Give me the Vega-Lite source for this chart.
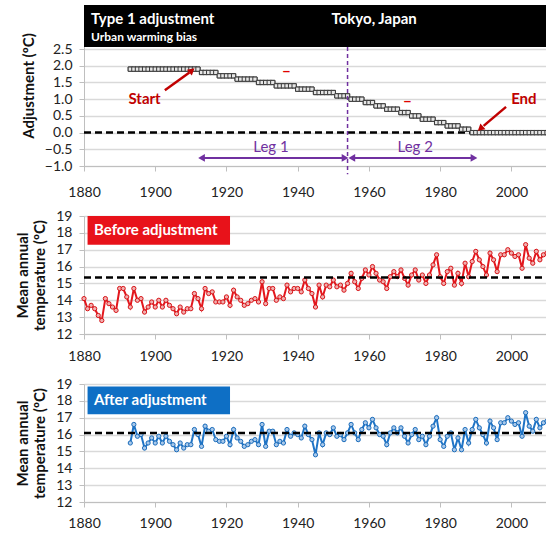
{
  "$schema": "https://vega.github.io/schema/vega-lite/v6.json",
  "padding": {"left": 15, "top": 5, "right": 0, "bottom": 0},
  "bounds": "flush",
  "spacing": 50,
  "config": {
    "view": {"stroke": null},
    "font": "Lato",
    "axis": {"labelFont": "Lato", "labelFontSize": 14, "labelColor": "#222", "titleFont": "Lato", "titleFontSize": 15, "titleFontWeight": "bold", "titleColor": "#111", "gridColor": "#d9d9d9", "gridWidth": 1.5, "domainColor": "#bfbfbf", "tickColor": "#bfbfbf", "tickSize": 5, "labelFlush": false, "labelOverlap": false}
  },
  "datasets": {
    "adj": [
      {"year":1893,"adj":1.9},{"year":1894,"adj":1.9},{"year":1895,"adj":1.9},{"year":1896,"adj":1.9},{"year":1897,"adj":1.9},{"year":1898,"adj":1.9},{"year":1899,"adj":1.9},{"year":1900,"adj":1.9},{"year":1901,"adj":1.9},{"year":1902,"adj":1.9},{"year":1903,"adj":1.9},{"year":1904,"adj":1.9},{"year":1905,"adj":1.9},{"year":1906,"adj":1.9},{"year":1907,"adj":1.9},{"year":1908,"adj":1.9},{"year":1909,"adj":1.9},{"year":1910,"adj":1.9},{"year":1911,"adj":1.9},{"year":1912,"adj":1.9},
      {"year":1913,"adj":1.8},{"year":1914,"adj":1.8},{"year":1915,"adj":1.8},{"year":1916,"adj":1.8},{"year":1917,"adj":1.8},
      {"year":1918,"adj":1.7},{"year":1919,"adj":1.7},{"year":1920,"adj":1.7},{"year":1921,"adj":1.7},{"year":1922,"adj":1.7},
      {"year":1923,"adj":1.6},{"year":1924,"adj":1.6},{"year":1925,"adj":1.6},{"year":1926,"adj":1.6},{"year":1927,"adj":1.6},{"year":1928,"adj":1.6},
      {"year":1929,"adj":1.5},{"year":1930,"adj":1.5},{"year":1931,"adj":1.5},{"year":1932,"adj":1.5},{"year":1933,"adj":1.5},
      {"year":1934,"adj":1.4},{"year":1935,"adj":1.4},{"year":1936,"adj":1.4},{"year":1937,"adj":1.4},{"year":1938,"adj":1.4},{"year":1939,"adj":1.4},
      {"year":1940,"adj":1.3},{"year":1941,"adj":1.3},{"year":1942,"adj":1.3},{"year":1943,"adj":1.3},{"year":1944,"adj":1.3},
      {"year":1945,"adj":1.2},{"year":1946,"adj":1.2},{"year":1947,"adj":1.2},{"year":1948,"adj":1.2},{"year":1949,"adj":1.2},{"year":1950,"adj":1.2},
      {"year":1951,"adj":1.1},{"year":1952,"adj":1.1},{"year":1953,"adj":1.1},{"year":1954,"adj":1.1},
      {"year":1955,"adj":1.0},{"year":1956,"adj":1.0},{"year":1957,"adj":1.0},{"year":1958,"adj":1.0},
      {"year":1959,"adj":0.9},{"year":1960,"adj":0.9},{"year":1961,"adj":0.9},
      {"year":1962,"adj":0.8},{"year":1963,"adj":0.8},{"year":1964,"adj":0.8},
      {"year":1965,"adj":0.7},{"year":1966,"adj":0.7},{"year":1967,"adj":0.7},{"year":1968,"adj":0.7},
      {"year":1969,"adj":0.6},{"year":1970,"adj":0.6},{"year":1971,"adj":0.6},
      {"year":1972,"adj":0.5},{"year":1973,"adj":0.5},{"year":1974,"adj":0.5},
      {"year":1975,"adj":0.4},{"year":1976,"adj":0.4},{"year":1977,"adj":0.4},{"year":1978,"adj":0.4},
      {"year":1979,"adj":0.3},{"year":1980,"adj":0.3},{"year":1981,"adj":0.3},
      {"year":1982,"adj":0.2},{"year":1983,"adj":0.2},{"year":1984,"adj":0.2},{"year":1985,"adj":0.2},
      {"year":1986,"adj":0.1},{"year":1987,"adj":0.1},{"year":1988,"adj":0.1},
      {"year":1989,"adj":0.0},{"year":1990,"adj":0.0},{"year":1991,"adj":0.0},{"year":1992,"adj":0.0},{"year":1993,"adj":0.0},{"year":1994,"adj":0.0},{"year":1995,"adj":0.0},{"year":1996,"adj":0.0},{"year":1997,"adj":0.0},{"year":1998,"adj":0.0},{"year":1999,"adj":0.0},{"year":2000,"adj":0.0},{"year":2001,"adj":0.0},{"year":2002,"adj":0.0},{"year":2003,"adj":0.0},{"year":2004,"adj":0.0},{"year":2005,"adj":0.0},{"year":2006,"adj":0.0},{"year":2007,"adj":0.0},{"year":2008,"adj":0.0},{"year":2009,"adj":0.0},{"year":2010,"adj":0.0}
    ],
    "temps": [
      {"year":1880,"before":14.1},{"year":1881,"before":13.5},{"year":1882,"before":13.7},{"year":1883,"before":13.5},{"year":1884,"before":13.1},{"year":1885,"before":12.8},{"year":1886,"before":14.1},{"year":1887,"before":13.8},{"year":1888,"before":13.6},{"year":1889,"before":13.4},{"year":1890,"before":14.7},{"year":1891,"before":14.7},{"year":1892,"before":14.2},
      {"year":1893,"before":13.6,"after":15.5},{"year":1894,"before":14.7,"after":16.6},{"year":1895,"before":14.0,"after":15.9},{"year":1896,"before":14.1,"after":16.0},{"year":1897,"before":13.3,"after":15.2},{"year":1898,"before":13.6,"after":15.5},{"year":1899,"before":13.9,"after":15.8},{"year":1900,"before":13.6,"after":15.5},
      {"year":1901,"before":14.0,"after":15.9},{"year":1902,"before":13.6,"after":15.5},{"year":1903,"before":14.0,"after":15.9},{"year":1904,"before":13.7,"after":15.6},{"year":1905,"before":13.5,"after":15.4},{"year":1906,"before":13.2,"after":15.1},{"year":1907,"before":13.6,"after":15.5},{"year":1908,"before":13.3,"after":15.2},{"year":1909,"before":13.5,"after":15.4},{"year":1910,"before":13.5,"after":15.4},
      {"year":1911,"before":14.4,"after":16.3},{"year":1912,"before":14.1,"after":16.0},{"year":1913,"before":13.5,"after":15.3},{"year":1914,"before":14.7,"after":16.5},{"year":1915,"before":14.4,"after":16.2},{"year":1916,"before":14.5,"after":16.3},{"year":1917,"before":13.9,"after":15.7},{"year":1918,"before":13.9,"after":15.6},{"year":1919,"before":13.9,"after":15.6},{"year":1920,"before":14.2,"after":15.9},
      {"year":1921,"before":13.7,"after":15.4},{"year":1922,"before":14.6,"after":16.3},{"year":1923,"before":14.2,"after":15.8},{"year":1924,"before":14.0,"after":15.6},{"year":1925,"before":13.7,"after":15.3},{"year":1926,"before":13.8,"after":15.4},{"year":1927,"before":14.0,"after":15.6},{"year":1928,"before":14.1,"after":15.7},{"year":1929,"before":13.9,"after":15.4},{"year":1930,"before":15.1,"after":16.6},
      {"year":1931,"before":13.8,"after":15.3},{"year":1932,"before":14.7,"after":16.2},{"year":1933,"before":14.7,"after":16.2},{"year":1934,"before":14.0,"after":15.4},{"year":1935,"before":14.2,"after":15.6},{"year":1936,"before":14.1,"after":15.5},{"year":1937,"before":14.9,"after":16.3},{"year":1938,"before":14.5,"after":15.9},{"year":1939,"before":14.7,"after":16.1},{"year":1940,"before":14.7,"after":16.0},
      {"year":1941,"before":14.5,"after":15.8},{"year":1942,"before":15.2,"after":16.5},{"year":1943,"before":14.7,"after":16.0},{"year":1944,"before":14.4,"after":15.7},{"year":1945,"before":13.6,"after":14.8},{"year":1946,"before":14.9,"after":16.1},{"year":1947,"before":14.2,"after":15.4},{"year":1948,"before":14.9,"after":16.1},{"year":1949,"before":14.8,"after":16.0},{"year":1950,"before":15.2,"after":16.4},
      {"year":1951,"before":14.8,"after":15.9},{"year":1952,"before":14.9,"after":16.0},{"year":1953,"before":14.6,"after":15.7},{"year":1954,"before":15.0,"after":16.1},{"year":1955,"before":15.6,"after":16.6},{"year":1956,"before":15.1,"after":16.1},{"year":1957,"before":14.7,"after":15.7},{"year":1958,"before":15.3,"after":16.3},{"year":1959,"before":15.8,"after":16.7},{"year":1960,"before":15.5,"after":16.4},
      {"year":1961,"before":16.0,"after":16.9},{"year":1962,"before":15.6,"after":16.4},{"year":1963,"before":15.2,"after":16.0},{"year":1964,"before":15.1,"after":15.9},{"year":1965,"before":14.7,"after":15.4},{"year":1966,"before":15.4,"after":16.1},{"year":1967,"before":15.7,"after":16.4},{"year":1968,"before":15.4,"after":16.1},{"year":1969,"before":15.8,"after":16.4},{"year":1970,"before":15.3,"after":15.9},
      {"year":1971,"before":14.9,"after":15.5},{"year":1972,"before":15.5,"after":16.0},{"year":1973,"before":15.8,"after":16.3},{"year":1974,"before":15.2,"after":15.7},{"year":1975,"before":15.5,"after":15.9},{"year":1976,"before":15.0,"after":15.4},{"year":1977,"before":15.5,"after":15.9},{"year":1978,"before":16.1,"after":16.5},{"year":1979,"before":16.7,"after":17.0},{"year":1980,"before":15.4,"after":15.7},
      {"year":1981,"before":15.0,"after":15.3},{"year":1982,"before":15.7,"after":15.9},{"year":1983,"before":15.9,"after":16.1},{"year":1984,"before":14.9,"after":15.1},{"year":1985,"before":15.6,"after":15.8},{"year":1986,"before":15.0,"after":15.1},{"year":1987,"before":16.2,"after":16.3},{"year":1988,"before":15.4,"after":15.5},{"year":1989,"before":16.3,"after":16.3},{"year":1990,"before":16.9,"after":16.9},
      {"year":1991,"before":16.4,"after":16.4},{"year":1992,"before":16.0,"after":16.0},{"year":1993,"before":15.5,"after":15.5},{"year":1994,"before":16.8,"after":16.8},{"year":1995,"before":16.4,"after":16.4},{"year":1996,"before":15.7,"after":15.7},{"year":1997,"before":16.7,"after":16.7},{"year":1998,"before":16.7,"after":16.7},{"year":1999,"before":17.0,"after":17.0},{"year":2000,"before":16.8,"after":16.8},
      {"year":2001,"before":16.6,"after":16.6},{"year":2002,"before":16.7,"after":16.7},{"year":2003,"before":15.9,"after":15.9},{"year":2004,"before":17.3,"after":17.3},{"year":2005,"before":16.5,"after":16.5},{"year":2006,"before":16.2,"after":16.2},{"year":2007,"before":16.9,"after":16.9},{"year":2008,"before":16.4,"after":16.4},{"year":2009,"before":16.7,"after":16.7},{"year":2010,"before":16.8,"after":16.8}
    ],
    "topLabels": [
      {"label":"Start","year":1897,"value":1.0},
      {"label":"End","year":2003.5,"value":1.02}
    ],
    "minus": [
      {"year":1936.8,"value":1.84},
      {"year":1970.8,"value":0.94}
    ],
    "legs": [
      {"label":"Leg 1","year":1932.5,"value":-0.42,"from":1913,"to":1953.3,"level":-0.76},
      {"label":"Leg 2","year":1973,"value":-0.42,"from":1955.2,"to":1989.5,"level":-0.76}
    ],
    "arrowTips": [
      {"year":1913,"value":-0.76,"angle":270,"color":"purple"},
      {"year":1953.3,"value":-0.76,"angle":90,"color":"purple"},
      {"year":1955.2,"value":-0.76,"angle":270,"color":"purple"},
      {"year":1989.5,"value":-0.76,"angle":90,"color":"purple"},
      {"year":1910.3,"value":1.86,"angle":50,"color":"red"},
      {"year":1991.3,"value":0.12,"angle":229,"color":"red"}
    ],
    "segs": [
      {"kind":"startArrow","x1":1902.7,"y1":1.27,"x2":1909.6,"y2":1.8},
      {"kind":"endArrow","x1":1998.5,"y1":0.77,"x2":1992.2,"y2":0.2},
      {"kind":"zero","x1":1880,"y1":0,"x2":2010,"y2":0},
      {"kind":"split","x1":1954,"y1":2.56,"x2":1954,"y2":-1.25},
      {"kind":"banner","x1":1880,"y1":2.56,"x2":2010,"y2":3.82},
      {"kind":"meanBefore","x1":1880,"y1":15.35,"x2":2010,"y2":15.35},
      {"kind":"boxBefore","x1":1881,"y1":17.3,"x2":1921,"y2":19},
      {"kind":"meanAfter","x1":1880,"y1":16.1,"x2":2010,"y2":16.1},
      {"kind":"boxAfter","x1":1881,"y1":17.2,"x2":1921,"y2":18.85}
    ]
  },
  "vconcat": [
    {
      "width": 463,
      "height": 161,
      "layer": [
        {
          "data": {"name": "adj"},
          "mark": {"type": "point", "shape": "square", "size": 18, "filled": true, "fill": "#e6e6e6", "stroke": "#3a3a3a", "strokeWidth": 1, "opacity": 1},
          "encoding": {
            "x": {"field": "year", "type": "quantitative", "scale": {"domain": [1880, 2010], "nice": false, "zero": false},
                  "axis": {"title": null, "values": [1880,1900,1920,1940,1960,1980,2000], "tickCount": 20, "format": "d", "grid": false, "labelPadding": 14, "labelOverlap": false}},
            "y": {"field": "adj", "type": "quantitative", "scale": {"domain": [-1, 3.82], "nice": false, "zero": false},
                  "axis": {"title": "Adjustment (ºC)", "values": [-1,-0.5,0,0.5,1,1.5,2,2.5], "tickCount": 20, "format": ".1f", "titlePadding": 8, "labelPadding": 7, "labelOverlap": false}}
          }
        },
        {
          "data": {"name": "segs"},
          "transform": [{"filter": "datum.kind == 'zero'"}],
          "mark": {"type": "rule", "strokeDash": [7, 4], "strokeWidth": 2.5, "color": "#000"},
          "encoding": {"x": {"field": "x1", "type": "quantitative"}, "x2": {"field": "x2"}, "y": {"field": "y1", "type": "quantitative"}}
        },
        {
          "data": {"name": "adj"},
          "mark": {"type": "point", "shape": "square", "size": 18, "filled": true, "fill": "#e6e6e6", "stroke": "#3a3a3a", "strokeWidth": 1, "opacity": 1},
          "encoding": {"x": {"field": "year", "type": "quantitative"}, "y": {"field": "adj", "type": "quantitative"}}
        },
        {
          "data": {"name": "segs"},
          "transform": [{"filter": "datum.kind == 'banner'"}],
          "mark": {"type": "rect", "color": "#000"},
          "encoding": {"x": {"field": "x1", "type": "quantitative"}, "x2": {"field": "x2"}, "y": {"field": "y1", "type": "quantitative"}, "y2": {"field": "y2"}}
        },
        {
          "data": {"name": "segs"},
          "transform": [{"filter": "datum.kind == 'split'"}],
          "mark": {"type": "rule", "strokeDash": [4, 3], "strokeWidth": 1.5, "color": "#7030a0"},
          "encoding": {"x": {"field": "x1", "type": "quantitative"}, "y": {"field": "y1", "type": "quantitative"}, "y2": {"field": "y2"}}
        },
        {
          "data": {"values": [
            {"label": "Type 1 adjustment", "year": 1882, "value": 3.4},
            {"label": "Tokyo, Japan", "year": 1949.5, "value": 3.4}
          ]},
          "mark": {"type": "text", "align": "left", "baseline": "middle", "color": "#fff", "fontSize": 15, "fontWeight": "bold", "font": "Lato"},
          "encoding": {"x": {"field": "year", "type": "quantitative"}, "y": {"field": "value", "type": "quantitative"}, "text": {"field": "label"}}
        },
        {
          "data": {"values": [{"label": "Urban warming bias", "year": 1882, "value": 2.87}]},
          "mark": {"type": "text", "align": "left", "baseline": "middle", "color": "#fff", "fontSize": 12, "fontWeight": "bold", "font": "Lato"},
          "encoding": {"x": {"field": "year", "type": "quantitative"}, "y": {"field": "value", "type": "quantitative"}, "text": {"field": "label"}}
        },
        {
          "data": {"name": "legs"},
          "mark": {"type": "rule", "color": "#7030a0", "strokeWidth": 2},
          "encoding": {"x": {"field": "from", "type": "quantitative"}, "x2": {"field": "to"}, "y": {"field": "level", "type": "quantitative"}}
        },
        {
          "data": {"name": "legs"},
          "mark": {"type": "text", "color": "#7030a0", "fontSize": 15, "font": "Lato", "baseline": "middle"},
          "encoding": {"x": {"field": "year", "type": "quantitative"}, "y": {"field": "value", "type": "quantitative"}, "text": {"field": "label"}}
        },
        {
          "data": {"name": "segs"},
          "transform": [{"filter": "datum.kind == 'startArrow' || datum.kind == 'endArrow'"}],
          "mark": {"type": "rule", "color": "#c00000", "strokeWidth": 2.5},
          "encoding": {"x": {"field": "x1", "type": "quantitative"}, "x2": {"field": "x2"}, "y": {"field": "y1", "type": "quantitative"}, "y2": {"field": "y2"}}
        },
        {
          "data": {"name": "arrowTips"},
          "mark": {"type": "point", "shape": "triangle-up", "filled": true, "size": 60, "opacity": 1},
          "encoding": {
            "x": {"field": "year", "type": "quantitative"}, "y": {"field": "value", "type": "quantitative"},
            "angle": {"field": "angle", "type": "quantitative", "scale": null},
            "color": {"field": "color", "type": "nominal", "scale": {"domain": ["purple", "red"], "range": ["#7030a0", "#c00000"]}, "legend": null}
          }
        },
        {
          "data": {"name": "topLabels"},
          "mark": {"type": "text", "color": "#c00000", "fontSize": 15, "fontWeight": "bold", "font": "Lato", "baseline": "middle"},
          "encoding": {"x": {"field": "year", "type": "quantitative"}, "y": {"field": "value", "type": "quantitative"}, "text": {"field": "label"}}
        },
        {
          "data": {"name": "minus"},
          "mark": {"type": "text", "text": "–", "color": "#e00000", "fontSize": 16, "fontWeight": "bold", "font": "Lato", "baseline": "middle"},
          "encoding": {"x": {"field": "year", "type": "quantitative"}, "y": {"field": "value", "type": "quantitative"}}
        }
      ]
    },
    {
      "width": 463,
      "height": 118,
      "layer": [
        {
          "data": {"name": "temps"},
          "mark": {"type": "line", "color": "#e3171d", "strokeWidth": 2,
                   "point": {"filled": true, "fill": "#f0b0b0", "stroke": "#d81418", "strokeWidth": 1, "size": 18}},
          "encoding": {
            "x": {"field": "year", "type": "quantitative", "scale": {"domain": [1880, 2010], "nice": false, "zero": false},
                  "axis": {"title": null, "values": [1880,1900,1920,1940,1960,1980,2000], "tickCount": 20, "format": "d", "grid": false, "labelPadding": 10, "labelOverlap": false}},
            "y": {"field": "before", "type": "quantitative", "scale": {"domain": [12, 19], "nice": false, "zero": false},
                  "axis": {"title": ["Mean annual", "temperature (ºC)"], "titleLineHeight": 17, "values": [12,13,14,15,16,17,18,19], "tickCount": 20, "format": "d", "titlePadding": 8, "labelPadding": 7, "labelOverlap": false}}
          }
        },
        {
          "data": {"name": "segs"},
          "transform": [{"filter": "datum.kind == 'meanBefore'"}],
          "mark": {"type": "rule", "strokeDash": [7, 4], "strokeWidth": 2.5, "color": "#000"},
          "encoding": {"x": {"field": "x1", "type": "quantitative"}, "x2": {"field": "x2"}, "y": {"field": "y1", "type": "quantitative"}}
        },
        {
          "data": {"name": "segs"},
          "transform": [{"filter": "datum.kind == 'boxBefore'"}],
          "mark": {"type": "rect", "color": "#e8121a"},
          "encoding": {"x": {"field": "x1", "type": "quantitative"}, "x2": {"field": "x2"}, "y": {"field": "y1", "type": "quantitative"}, "y2": {"field": "y2"}}
        },
        {
          "data": {"values": [{"label": "Before adjustment", "year": 1882.8, "value": 18.15}]},
          "mark": {"type": "text", "align": "left", "baseline": "middle", "color": "#fff", "fontSize": 15, "fontWeight": "bold", "font": "Lato"},
          "encoding": {"x": {"field": "year", "type": "quantitative"}, "y": {"field": "value", "type": "quantitative"}, "text": {"field": "label"}}
        }
      ]
    },
    {
      "width": 463,
      "height": 118,
      "layer": [
        {
          "data": {"name": "temps"},
          "transform": [{"filter": "isValid(datum.after)"}],
          "mark": {"type": "line", "color": "#1f74c6", "strokeWidth": 2,
                   "point": {"filled": true, "fill": "#a8c8ea", "stroke": "#1a6cbb", "strokeWidth": 1, "size": 18}},
          "encoding": {
            "x": {"field": "year", "type": "quantitative", "scale": {"domain": [1880, 2010], "nice": false, "zero": false},
                  "axis": {"title": null, "values": [1880,1900,1920,1940,1960,1980,2000], "tickCount": 20, "format": "d", "grid": false, "labelPadding": 9, "labelOverlap": false}},
            "y": {"field": "after", "type": "quantitative", "scale": {"domain": [12, 19], "nice": false, "zero": false},
                  "axis": {"title": ["Mean annual", "temperature (ºC)"], "titleLineHeight": 17, "values": [12,13,14,15,16,17,18,19], "tickCount": 20, "format": "d", "titlePadding": 8, "labelPadding": 7, "labelOverlap": false}}
          }
        },
        {
          "data": {"name": "segs"},
          "transform": [{"filter": "datum.kind == 'meanAfter'"}],
          "mark": {"type": "rule", "strokeDash": [7, 4], "strokeWidth": 2.5, "color": "#000"},
          "encoding": {"x": {"field": "x1", "type": "quantitative"}, "x2": {"field": "x2"}, "y": {"field": "y1", "type": "quantitative"}}
        },
        {
          "data": {"name": "segs"},
          "transform": [{"filter": "datum.kind == 'boxAfter'"}],
          "mark": {"type": "rect", "color": "#0e6fc5"},
          "encoding": {"x": {"field": "x1", "type": "quantitative"}, "x2": {"field": "x2"}, "y": {"field": "y1", "type": "quantitative"}, "y2": {"field": "y2"}}
        },
        {
          "data": {"values": [{"label": "After adjustment", "year": 1882.8, "value": 18.05}]},
          "mark": {"type": "text", "align": "left", "baseline": "middle", "color": "#fff", "fontSize": 15, "fontWeight": "bold", "font": "Lato"},
          "encoding": {"x": {"field": "year", "type": "quantitative"}, "y": {"field": "value", "type": "quantitative"}, "text": {"field": "label"}}
        }
      ]
    }
  ]
}
